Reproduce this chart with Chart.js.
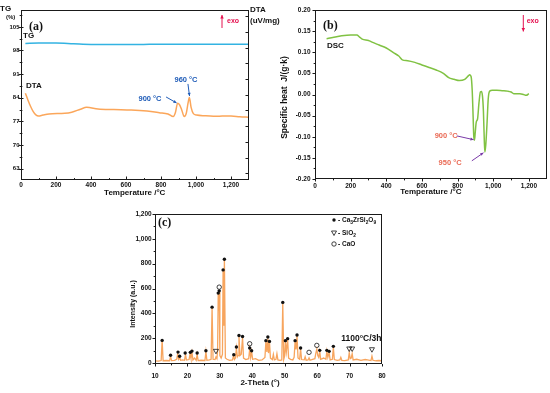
<!DOCTYPE html>
<html>
<head>
<meta charset="utf-8">
<script src="https://cdn.jsdelivr.net/npm/chart.js@4.4.1/dist/chart.umd.min.js"></script>
<style>
html, body { margin: 0; padding: 0; background: #fff; }
#wrap { position: relative; width: 550px; height: 393px; overflow: hidden; }
canvas { position: absolute; }
</style>
</head>
<body>
<div id="wrap">
  <canvas id="chartA" width="290" height="200" style="left:0;top:0;width:290px;height:200px"></canvas>
  <canvas id="chartB" width="275" height="200" style="left:275px;top:0;width:275px;height:200px"></canvas>
  <canvas id="chartC" width="300" height="193" style="left:100px;top:200px;width:300px;height:193px"></canvas>
</div>
<script>
// (a) TG / DTA
const tgTemp = [25, 100, 200, 300, 400, 500, 600, 700, 800, 900, 1000, 1100, 1200, 1300];
const tgMass = [100.1, 100.2, 100.2, 100.0, 99.8, 99.75, 99.75, 99.8, 99.85, 99.85, 99.85, 99.85, 99.85, 99.85];
const dtaTemp = [25, 40, 55, 70, 85, 100, 125, 160, 250, 290, 340, 375, 440, 530, 630, 720, 790, 840, 870, 882,
    895, 905, 918, 933, 945, 955, 962, 972, 985, 1004, 1050, 1100, 1150, 1200, 1250, 1300];
const dtaSignal = [5.10, 4.65, 4.25, 3.92, 3.72, 3.65, 3.71, 3.78, 3.82, 3.89, 4.08, 4.20, 4.10, 4.06, 4.03, 3.96, 3.86, 3.78, 3.61, 3.85,
    4.46, 4.38, 4.05, 3.61, 3.85, 4.50, 4.82, 4.20, 3.80, 3.71, 3.66, 3.63, 3.64, 3.65, 3.60, 3.57];

// (b) DSC
const dscTemp = [65, 100, 150, 200, 235, 250, 265, 300, 320, 360, 400, 440, 470, 490, 520, 560, 600, 640, 680, 720,
    750, 780, 810, 840, 860, 868, 876, 882, 887, 891, 895, 899, 905, 912, 920, 928, 934, 940, 945, 950,
    953, 958, 965, 972, 980, 995, 1020, 1050, 1080, 1100, 1115, 1130, 1150, 1170, 1185, 1200];
const dscHeat = [0.132, 0.135, 0.139, 0.141, 0.141, 0.136, 0.131, 0.128, 0.124, 0.117, 0.110, 0.099, 0.091, 0.082, 0.080, 0.076, 0.070, 0.064, 0.058, 0.050,
    0.040, 0.036, 0.033, 0.036, 0.044, 0.047, 0.042, 0.010, -0.050, -0.100, -0.108, -0.090, -0.065, -0.058, -0.020, 0.006, 0.007, -0.005, -0.040, -0.110,
    -0.136, -0.120, -0.070, -0.010, 0.008, 0.010, 0.010, 0.009, 0.008, 0.006, 0.002, 0.002, 0.002, 0.000, -0.002, 0.002];

// (c) XRD pattern
const xrdAngle = [
    10, 11, 11.9, 12.2, 12.5,
    13.5, 14.5, 14.8, 15.1,
    16, 16.7, 17.0, 17.3, 17.6, 17.9,
    18.5, 19.1, 19.4, 19.7,
    20.5, 20.8, 21.1, 21.4, 21.7,
    22.2, 22.7, 23.0, 23.3,
    24.2, 25.4, 25.7, 26.0,
    26.8, 27.3, 27.6, 27.9,
    28.5, 28.8, 29.1, 29.3, 29.5, 29.6, 29.8, 30.0,
    30.4, 30.8, 31.0, 31.2, 31.4, 31.7,
    32.2, 33.0, 33.9, 34.2, 34.5,
    34.8, 35.1, 35.4, 35.6, 35.9, 36.2, 36.6, 37.0, 37.3,
    38.0, 38.9, 39.2, 39.5, 39.8, 40.1,
    41.0, 42.0, 43.0, 43.9, 44.2, 44.5, 44.8, 45.0, 45.3, 45.6,
    46.2, 46.5, 46.8, 47.3, 47.6, 47.9,
    48.6, 49.1, 49.4, 49.7,
    50.0, 50.2, 50.5, 50.9, 51.2,
    51.8, 52.5, 52.9, 53.2, 53.5, 53.8, 54.1,
    54.6, 54.9, 55.2,
    56.0, 56.3, 56.6, 57.2, 57.5, 57.8,
    58.6, 59.3, 59.6, 59.9, 60.2, 60.5, 60.8, 61.1,
    62.0, 62.7, 63.0, 63.3, 63.7, 64.0,
    64.7, 65.0, 65.3,
    66.2, 67.0, 67.3, 67.6,
    68.5, 69.6, 69.9, 70.2, 70.5, 70.8, 71.1,
    72.2, 73.5, 74.8, 75.5, 76.6, 76.9, 77.2,
    78.2, 79.0, 80
];
const xrdIntensity = [
    18, 15, 20, 185, 18,
    20, 18, 52, 20,
    22, 30, 75, 30, 45, 22,
    25, 22, 68, 25,
    28, 72, 35, 85, 25,
    40, 22, 70, 20,
    22, 20, 92, 22,
    25, 30, 445, 30,
    28, 48, 35, 100, 558, 420, 575, 60,
    40, 70, 745, 300, 832, 40,
    30, 22, 25, 58, 28,
    40, 120, 50, 60, 215, 60, 70, 205, 40,
    28, 35, 112, 45, 92, 30,
    35, 22, 25, 45, 172, 90, 200, 80, 165, 40,
    28, 70, 25, 30, 75, 25,
    22, 25, 480, 30,
    60, 172, 90, 188, 40,
    30, 25, 45, 172, 110, 218, 40,
    30, 112, 28,
    25, 50, 22, 25, 42, 22,
    30, 35, 80, 112, 60, 45, 92, 30,
    40, 30, 95, 45, 85, 25,
    30, 125, 28,
    22, 25, 45, 22,
    20, 25, 82, 35, 40, 75, 25,
    30, 22, 28, 25, 20, 55, 22,
    18, 20, 18
];
const xrdTicks = [0, 200, 400, 600, 800, 1000, 1200];
// phase markers above peaks: c = Ca3ZrSi2O9, s = SiO2, o = CaO
const markAngle = [12.2, 14.8, 17.1, 17.6, 19.3, 20.9, 21.4, 23.0, 25.7, 27.6, 28.8, 29.5, 29.8, 29.8, 31.0, 31.4, 34.3, 35.1, 35.9, 37.0,
    39.2, 39.2, 39.8, 44.2, 44.8, 45.3, 49.4, 50.2, 50.9, 53.2, 53.8, 54.9, 57.5, 59.9, 60.8, 63.0, 63.7, 65.0, 69.9, 70.8, 76.9];
const markHeight = [182, 62, 88, 54, 80, 86, 96, 80, 99, 450, 94, 563, 581, 611, 750, 836, 67, 129, 222, 214,
    155, 121, 99, 180, 209, 174, 488, 180, 196, 180, 225, 121, 86, 142, 102, 102, 94, 134, 113, 113, 107];
const markPhase = ['c', 'c', 'c', 'c', 'c', 'c', 'c', 'c', 'c', 'c', 's', 'c', 'c', 'o', 'c', 'c', 'c', 'c', 'c', 'c',
    'o', 'c', 'c', 'c', 'c', 'c', 'c', 'c', 'c', 'c', 'c', 'c', 'o', 'o', 'c', 'c', 'c', 'c', 's', 's', 's'];
const phaseKeys = ['c', 's', 'o'];
const phaseNames = ['Ca3ZrSi2O9', 'SiO2', 'CaO'];

const sans = '"Liberation Sans", Arial, sans-serif';
const serif = '"Liberation Serif", "Times New Roman", serif';
Chart.defaults.font.family = sans;
Chart.defaults.color = '#111';

function xy(xs, ys) {
    return xs.map((v, i) => ({ x: v, y: ys[i] }));
}

function linAxis(min, max, step, pad, size, extra = {}) {
    return {
        type: 'linear', min, max,
        grid: { display: false, drawTicks: false },
        border: { display: false },
        ticks: {
            stepSize: step, includeBounds: false, autoSkip: false, maxRotation: 0,
            padding: pad, color: '#111', font: { size: 6.5, weight: 'bold' },
            ...extra
        },
        afterFit: s => {
            if (s.isHorizontal()) s.height = size; else s.width = size;
        }
    };
}

// box frame + tick marks drawn by hand (inward / outward / crossing)
function frameTicks(specs) {
    return {
        id: 'frameTicks',
        afterDatasetsDraw(chart) {
            const { ctx, chartArea: a } = chart;
            ctx.save();
            ctx.strokeStyle = '#1a1a1a';
            ctx.lineWidth = 1;
            ctx.strokeRect(Math.round(a.left) + 0.5, Math.round(a.top) + 0.5,
                Math.round(a.right - a.left) - 1, Math.round(a.bottom - a.top) - 1);
            specs.forEach(sp => {
                const sc = chart.scales[sp.id];
                const vals = sc.ticks.map(t => t.value);
                const step = vals[1] - vals[0];
                const marks = vals.map(v => [v, sp.len]);
                if (sp.minor) {
                    for (let k = -1; k < vals.length; k++) {
                        const v = vals[0] + (k + 0.5) * step;
                        if (v > sc.min && v < sc.max) marks.push([v, sp.len * 0.55]);
                    }
                }
                marks.forEach(([v, len]) => {
                    const p = Math.round(sc.getPixelForValue(v)) + 0.5;
                    const inn = sp.style === 'out' ? 0 : len;
                    const out = sp.style === 'in' ? 0 : len;
                    ctx.beginPath();
                    if (sp.side === 'bottom') {
                        ctx.moveTo(p, a.bottom - inn); ctx.lineTo(p, a.bottom + out);
                    } else if (sp.side === 'left') {
                        ctx.moveTo(a.left + inn, p); ctx.lineTo(a.left - out, p);
                    } else {
                        ctx.moveTo(a.right - inn, p); ctx.lineTo(a.right + out, p);
                    }
                    ctx.stroke();
                });
            });
            ctx.restore();
        }
    };
}

function arrow(ctx, x0, y0, x1, y1, color, head = 4) {
    ctx.strokeStyle = color;
    ctx.fillStyle = color;
    ctx.lineWidth = 1;
    ctx.beginPath(); ctx.moveTo(x0, y0); ctx.lineTo(x1, y1); ctx.stroke();
    const ang = Math.atan2(y1 - y0, x1 - x0);
    ctx.beginPath();
    ctx.moveTo(x1, y1);
    ctx.lineTo(x1 - head * Math.cos(ang - 0.45), y1 - head * Math.sin(ang - 0.45));
    ctx.lineTo(x1 - head * Math.cos(ang + 0.45), y1 - head * Math.sin(ang + 0.45));
    ctx.closePath();
    ctx.fill();
}

function chemText(ctx, str, x, y, size) {
    str.match(/\d+|[^\d]+/g).forEach(part => {
        const sub = /\d/.test(part);
        ctx.font = `bold ${sub ? size * 0.75 : size}px ${sans}`;
        ctx.fillText(part, x, y + (sub ? size * 0.35 : 0));
        x += ctx.measureText(part).width;
    });
}

function phaseMark(ctx, key, x, y) {
    ctx.strokeStyle = '#111';
    ctx.fillStyle = '#111';
    ctx.lineWidth = 0.8;
    if (key === 'c') {
        ctx.beginPath(); ctx.arc(x, y, 1.7, 0, Math.PI * 2); ctx.fill();
    } else if (key === 'o') {
        ctx.beginPath(); ctx.arc(x, y, 2.2, 0, Math.PI * 2); ctx.stroke();
    } else {
        ctx.beginPath();
        ctx.moveTo(x - 2.5, y - 2); ctx.lineTo(x + 2.5, y - 2); ctx.lineTo(x, y + 2.5);
        ctx.closePath(); ctx.stroke();
    }
}

const exoRed = '#e5104f';

// ---------- (a) ----------
const annoA = {
    id: 'annoA',
    afterDraw(chart) {
        const { ctx, chartArea: a, scales: { x, y2 } } = chart;
        ctx.save();
        ctx.fillStyle = '#111';
        ctx.textBaseline = 'middle';
        ctx.textAlign = 'left';
        ctx.font = `bold 12px ${serif}`;
        ctx.fillText('(a)', a.left + 8, a.top + 17);
        ctx.font = `bold 8px ${sans}`;
        ctx.fillText('TG', a.left + 2, a.top + 26);
        ctx.fillText('DTA', a.left + 5, a.top + 76);
        // axis titles
        ctx.fillText('TG', a.left - 21, a.top - 1);
        ctx.fillText('DTA', a.right + 1.5, a.top - 0.5);
        ctx.fillText('(uV/mg)', a.right + 1.5, a.top + 11);
        ctx.font = `bold 6px ${sans}`;
        ctx.fillText('(%)', a.left - 15, a.top + 7.5);
        ctx.textAlign = 'center';
        ctx.font = `bold 8px ${sans}`;
        ctx.fillText('Temperature /\u00b0C', (a.left + a.right) / 2, a.bottom + 13);
        // exo
        arrow(ctx, a.right - 26.5, a.top + 18, a.right - 26.5, a.top + 5, exoRed, 4);
        ctx.fillStyle = exoRed;
        ctx.textAlign = 'left';
        ctx.font = `bold 7px ${sans}`;
        ctx.fillText('exo', a.right - 21.5, a.top + 11);
        // peak labels
        const blue = '#1f5cb8';
        ctx.fillStyle = blue;
        ctx.textAlign = 'center';
        ctx.font = `bold 7.5px ${sans}`;
        ctx.fillText('900 \u00b0C', x.getPixelForValue(737), y2.getPixelForValue(4.73));
        ctx.fillText('960 \u00b0C', x.getPixelForValue(943), y2.getPixelForValue(5.94));
        arrow(ctx, x.getPixelForValue(829), y2.getPixelForValue(4.86), x.getPixelForValue(889), y2.getPixelForValue(4.48), blue, 3.5);
        arrow(ctx, x.getPixelForValue(954), y2.getPixelForValue(5.69), x.getPixelForValue(963), y2.getPixelForValue(4.92), blue, 3.5);
        ctx.restore();
    }
};

new Chart(document.getElementById('chartA'), {
    type: 'line',
    data: {
        datasets: [
            { label: 'TG', data: xy(tgTemp, tgMass), yAxisID: 'y', borderColor: '#33b3e2', borderWidth: 1.5, pointRadius: 0, cubicInterpolationMode: 'monotone' },
            { label: 'DTA', data: xy(dtaTemp, dtaSignal), yAxisID: 'y2', borderColor: '#fba65a', borderWidth: 1.5, pointRadius: 0, cubicInterpolationMode: 'monotone' }
        ]
    },
    options: {
        responsive: false, animation: false, devicePixelRatio: 1,
        layout: { padding: { top: 10, right: 36.5, left: 0, bottom: 0 } },
        plugins: { legend: { display: false }, tooltip: { enabled: false } },
        scales: {
            x: linAxis(0, 1300, 200, 1.5, 20),
            y: linAxis(59.6, 110, 7, 1.5, 21, { font: { size: 6, weight: 'bold' } }),
            y2: { ...linAxis(-0.43, 10.4, 1, 0, 5, { display: false }), position: 'right' }
        }
    },
    plugins: [frameTicks([
        { id: 'x', side: 'bottom', style: 'in', len: 3.5, minor: true },
        { id: 'y', side: 'left', style: 'cross', len: 2.5, minor: true },
        { id: 'y2', side: 'right', style: 'in', len: 3, minor: false }
    ]), annoA]
});

// ---------- (b) ----------
const annoB = {
    id: 'annoB',
    afterDraw(chart) {
        const { ctx, chartArea: a, scales: { x, y } } = chart;
        ctx.save();
        ctx.fillStyle = '#111';
        ctx.textBaseline = 'middle';
        ctx.textAlign = 'left';
        ctx.font = `bold 12px ${serif}`;
        ctx.fillText('(b)', a.left + 8, a.top + 15.5);
        ctx.font = `bold 8px ${sans}`;
        ctx.fillText('DSC', a.left + 12, a.top + 35.5);
        ctx.textAlign = 'center';
        ctx.fillText('Temperature /\u00b0C', (a.left + a.right) / 2, a.bottom + 13);
        ctx.save();
        ctx.translate(a.left - 30, (a.top + a.bottom) / 2 + 3);
        ctx.rotate(-Math.PI / 2);
        ctx.font = `bold 8.5px ${sans}`;
        ctx.fillText('Specific heat  J/(g\u00b7k)', 0, 0);
        ctx.restore();
        // exo
        arrow(ctx, a.right - 23.4, a.top + 5, a.right - 23.4, a.top + 21.5, exoRed, 4);
        ctx.fillStyle = exoRed;
        ctx.textAlign = 'left';
        ctx.font = `bold 7px ${sans}`;
        ctx.fillText('exo', a.right - 20, a.top + 11.5);
        // peak labels
        const salmon = '#ea6a55', purple = '#7a3aa8';
        ctx.fillStyle = salmon;
        ctx.textAlign = 'center';
        ctx.font = `bold 7.5px ${sans}`;
        ctx.fillText('900 \u00b0C', x.getPixelForValue(736), y.getPixelForValue(-0.098));
        ctx.fillText('950 \u00b0C', x.getPixelForValue(758), y.getPixelForValue(-0.162));
        arrow(ctx, x.getPixelForValue(796), y.getPixelForValue(-0.098), x.getPixelForValue(890), y.getPixelForValue(-0.107), purple, 3.5);
        arrow(ctx, x.getPixelForValue(880), y.getPixelForValue(-0.157), x.getPixelForValue(945), y.getPixelForValue(-0.138), purple, 3.5);
        ctx.restore();
    }
};

new Chart(document.getElementById('chartB'), {
    type: 'line',
    data: {
        datasets: [
            { label: 'DSC', data: xy(dscTemp, dscHeat), borderColor: '#80c243', borderWidth: 1.5, pointRadius: 0, cubicInterpolationMode: 'monotone' }
        ]
    },
    options: {
        responsive: false, animation: false, devicePixelRatio: 1,
        layout: { padding: { top: 10, right: 3.3, left: 0, bottom: 0 } },
        plugins: { legend: { display: false }, tooltip: { enabled: false } },
        scales: {
            x: linAxis(0, 1300, 200, 3, 21),
            y: linAxis(-0.2, 0.2, 0.05, 4.5, 40, {
                callback: v => (Math.abs(v) < 1e-9 ? 0 : v).toFixed(2)
            })
        }
    },
    plugins: [frameTicks([
        { id: 'x', side: 'bottom', style: 'out', len: 2.5, minor: true },
        { id: 'y', side: 'left', style: 'out', len: 2.5, minor: true }
    ]), annoB]
});

// ---------- (c) ----------
const annoC = {
    id: 'annoC',
    afterDraw(chart) {
        const { ctx, chartArea: a, scales: { x, y } } = chart;
        ctx.save();
        markAngle.forEach((t, i) => {
            phaseMark(ctx, markPhase[i], x.getPixelForValue(t), y.getPixelForValue(markHeight[i]));
        });
        ctx.fillStyle = '#111';
        ctx.textBaseline = 'middle';
        ctx.textAlign = 'left';
        ctx.font = `bold 12px ${serif}`;
        ctx.fillText('(c)', a.left + 3, a.top + 9);
        // legend
        phaseKeys.forEach((k, i) => {
            const ly = a.top + [6, 19, 30][i];
            phaseMark(ctx, k, a.right - 48, ly);
            ctx.fillStyle = '#111';
            ctx.font = `bold 6.5px ${sans}`;
            ctx.fillText('-', a.right - 44, ly);
            chemText(ctx, phaseNames[i], a.right - 40, ly, 6.5);
        });
        ctx.textAlign = 'right';
        ctx.font = `bold 8.5px ${sans}`;
        ctx.fillText('1100\u00b0C/3h', a.right - 0.5, a.bottom - 25);
        ctx.textAlign = 'center';
        ctx.font = `bold 8px ${sans}`;
        ctx.fillText('2-Theta (\u00b0)', a.left + 105, a.bottom + 19);
        ctx.translate(a.left - 22, a.top + 90);
        ctx.rotate(-Math.PI / 2);
        ctx.font = `bold 7px ${sans}`;
        ctx.fillText('Intensity (a.u.)', 0, 0);
        ctx.restore();
    }
};

const yAxisC = linAxis(-8, 1200, 200, 3.3, 55);
yAxisC.afterBuildTicks = s => { s.ticks = xrdTicks.map(v => ({ value: v })); };

new Chart(document.getElementById('chartC'), {
    type: 'line',
    data: {
        datasets: [
            { label: 'XRD', data: xy(xrdAngle, xrdIntensity), borderColor: '#f7a55e', borderWidth: 1.3, pointRadius: 0, tension: 0 }
        ]
    },
    options: {
        responsive: false, animation: false, devicePixelRatio: 1,
        layout: { padding: { top: 14, right: 18, left: 0, bottom: 0 } },
        plugins: { legend: { display: false }, tooltip: { enabled: false } },
        scales: {
            x: linAxis(10, 80, 10, 8, 29),
            y: yAxisC
        }
    },
    plugins: [frameTicks([
        { id: 'x', side: 'bottom', style: 'out', len: 2.5, minor: true },
        { id: 'y', side: 'left', style: 'out', len: 2.5, minor: true }
    ]), annoC]
});
</script>
</body>
</html>
